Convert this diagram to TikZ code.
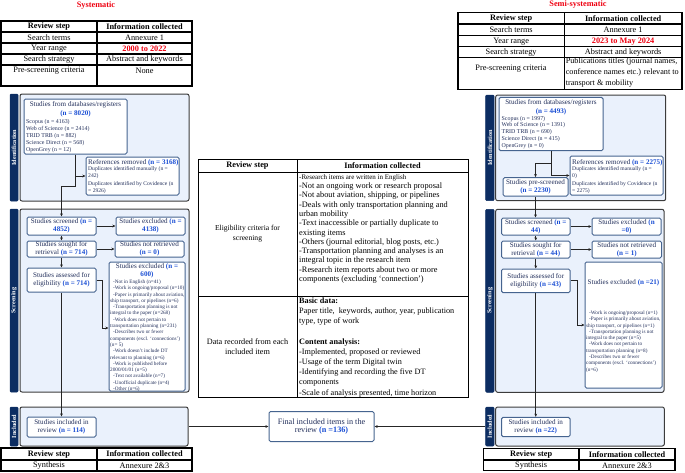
\documentclass[tikz,border=0pt]{standalone}
\usepackage{fontspec}
\setmainfont{Liberation Serif}
\usetikzlibrary{arrows.meta}

\definecolor{navy}{HTML}{0C2D62}
\definecolor{panfill}{HTML}{EAF1FC}
\definecolor{panb}{HTML}{3C3C3C}
\definecolor{boxb}{HTML}{46648F}
\definecolor{boxtxt}{HTML}{23305C}
\definecolor{nblue}{HTML}{1A4ED4}
\definecolor{hred}{HTML}{EE0010}

\newcommand\nb[1]{\textcolor{nblue}{\bfseries #1}}
\newcommand\tabf{\fontsize{8.3}{10}\selectfont}
\newcommand\midf{\fontsize{8.3}{9.3}\selectfont}
\newcommand\mida{\fontsize{7}{9.3}\selectfont}
\newcommand\mide{\fontsize{7.6}{9.3}\selectfont}
\newcommand\midg{\fontsize{8.2}{10.2}\selectfont}
\newcommand\boxf{\fontsize{7.1}{8.2}\selectfont}
\newcommand\finf{\fontsize{8.2}{10.6}\selectfont}
\newcommand\dbf{\fontsize{5.9}{6.9}\selectfont}
\newcommand\reff{\fontsize{5.6}{7.2}\selectfont}
\newcommand\exf{\fontsize{5.2}{6.3}\selectfont}
\newcommand\sidef{\fontsize{6.2}{7}\selectfont}
\newcommand\bx[7]{\node[#6, minimum width={#4-#2}, minimum height={#5-#3}] (#1) at ({(#2+#4)/2},{(#3+#5)/2}) {#7};}

\begin{document}
\begin{tikzpicture}[x=1pt,y=-1pt,
  cell/.style={draw=black, line width=1.2pt, inner sep=0pt, align=center, font=\tabf, text=black},
  mcell/.style={cell, line width=0.9pt},
  tabtxt/.style={inner sep=0pt, font=\tabf, align=center, text=black},
  ttl/.style={inner sep=0pt, font=\tabf\bfseries, text=hred},
  panel/.style={draw=panb, line width=1pt, fill=panfill, rounded corners=2pt, inner sep=0pt},
  side/.style={draw=navy, fill=navy, rounded corners=1pt, inner sep=0pt, line width=0.5pt},
  sidetxt/.style={rotate=90, text=white, font=\sidef\bfseries, inner sep=0pt},
  box/.style={draw=boxb, line width=1pt, fill=white, rounded corners=1.5pt, inner sep=0.5pt, align=center, font=\boxf, text=boxtxt},
  boxt/.style={inner sep=0pt, align=center, font=\boxf, text=boxtxt},
  dbl/.style={inner sep=0pt, align=left, font=\dbf, text=boxtxt, anchor=north west},
  refl/.style={inner sep=0pt, align=left, font=\reff, text=boxtxt, anchor=north west},
  exl/.style={inner sep=0pt, align=left, font=\exf, text=boxtxt, anchor=north west},
  conn/.style={draw=black!85, line width=0.8pt},
  arr/.style={conn, -{Stealth[length=3.2pt,width=2.8pt]}}
]
\useasboundingbox (0,0) rectangle (685,472);

% ---------------- LEFT: systematic ----------------
\node[ttl] (ltitle) at (96,6) {Systematic};
\bx{lt11}{1}{21}{97}{32}{cell}{\bfseries Review step}
\bx{lt12}{97}{21}{192}{32}{cell}{\bfseries Information collected}
\bx{lt21}{1}{32}{97}{43}{cell}{Search terms}
\bx{lt22}{97}{32}{192}{43}{cell}{Annexure 1}
\bx{lt31}{1}{43}{97}{54}{cell}{Year range}
\bx{lt32}{97}{43}{192}{54}{cell}{\textcolor{hred}{\bfseries 2000 to 2022}}
\bx{lt41}{1}{54}{97}{65}{cell}{Search strategy}
\bx{lt42}{97}{54}{192}{65}{cell}{Abstract and keywords}
\bx{lt51}{1}{65}{97}{86}{cell}{}
\bx{lt52}{97}{65}{192}{86}{cell}{}
\node[tabtxt] (lt51t) at (49,71) {Pre-screening criteria};
\node[tabtxt] (lt52t) at (144.5,71) {None};

\bx{lpI}{20}{94}{189}{201}{panel}{}
\bx{lsI}{10}{94}{18}{201}{side}{}
\node[sidetxt] (lsIt) at (lsI) {Identification};
\bx{lpS}{20}{209}{189}{392}{panel}{}
\bx{lsS}{10}{209}{18}{392}{side}{}
\node[sidetxt] (lsSt) at (lsS) {Screening};
\bx{lpN}{20}{407}{188}{446}{panel}{}
\bx{lsN}{10}{407}{18}{446}{side}{}
\node[sidetxt] (lsNt) at (lsN) {Included};

\bx{ldb}{24}{99}{127}{154}{box}{}
\node[boxt] (ldbt) at (75.5,109.5) {Studies from databases/registers\\[0.3pt]\nb{(n = 8020)}};
\node[dbl] (ldbl) at (26,119.3) {Scopus (n = 4163)\\Web of Science (n = 2414)\\TRID TRB (n = 882)\\Science Direct (n = 568)\\OpenGrey (n = 12)};

\bx{lref}{86}{157}{179}{195}{box}{}
\node[boxt, anchor=west] (lreft) at (88,162.3) {References removed \nb{(n = 3168)}};
\node[refl] (lrefl) at (88,166.5) {Duplicates identified manually (n =\\242)\\Duplicates identified by Covidence (n\\= 2926)};

\bx{lscr}{27}{217}{96}{235}{box}{Studies screened \nb{(n =}\\\nb{4852)}}
\bx{lexc1}{116}{217}{185}{235}{box}{Studies excluded \nb{(n =}\\\nb{4138)}}
\bx{lsought}{27}{241}{96}{257}{box}{Studies sought for\\retrieval \nb{(n = 714)}}
\bx{lnotret}{115}{241}{184}{257}{box}{Studies not retrieved\\\nb{(n = 0)}}
\bx{lassess}{27}{268}{96}{292}{box}{Studies assessed for\\eligibility \nb{(n = 714)}}
\bx{lexc2}{109}{262}{185}{391}{box}{}
\node[boxt] (lexc2t) at (147,271) {Studies excluded \nb{(n =}\\\nb{600)}};
\node[exl] (lexc2l) at (110,279.6) {\hspace*{3pt}-Not in English (n=41)\\
\hspace*{3pt}-Work is ongoing/proposal (n=10)\\
\hspace*{3pt}-Paper is primarily about aviation,\\
ship transport, or pipelines (n=6)\\
\hspace*{3pt}-Transportation planning is not\\
integral to the paper (n=268)\\
\hspace*{3pt}-Work does not pertain to\\
transportation planning (n=231)\\
\hspace*{3pt}-Describes two or fewer\\
components (excl. `connections')\\
(n= 5)\\
\hspace*{3pt}-Work doesn't include DT\\
relevant to planning (n=6)\\
\hspace*{3pt}-Work is published before\\
2000/01/01 (n=5)\\
\hspace*{3pt}-Text not available (n=7)\\
\hspace*{3pt}-Unofficial duplicate (n=4)\\
\hspace*{3pt}-Other (n=6)};
\bx{linc}{27}{417}{96}{437}{box}{Studies included in\\review \nb{(n = 114)}}

\bx{lb11}{1}{448}{97}{460}{cell}{\bfseries Review step}
\bx{lb12}{97}{448}{192}{460}{cell}{\bfseries Information collected}
\bx{lb21}{1}{460}{97}{471}{cell}{Synthesis}
\bx{lb22}{97}{460}{192}{471}{cell}{Annexure 2\&3}

% ---------------- MIDDLE ----------------
\bx{mt11}{198}{159}{297}{172}{mcell}{\bfseries Review step}
\bx{mt12}{297}{159}{468}{172}{mcell}{\bfseries Information collected}
\bx{mt21}{198}{172}{297}{296}{mcell}{\mide Eligibility criteria for\\\mide screening}
\bx{mt22}{297}{172}{468}{296}{mcell}{}
\node[inner sep=0pt, align=left, anchor=north west, font=\midf] (mt22t) at (299,174.2) {{\mida -Research items are written in English}\\
-Not an ongoing work or research proposal\\
-Not about aviation, shipping, or pipelines\\
-Deals with only transportation planning and\\
urban mobility\\
-Text inaccessible or partially duplicate to\\
existing items\\
-Others (journal editorial, blog posts, etc.)\\
-Transportation planning and analyses is an\\
integral topic in the research item\\
-Research item reports about two or more\\
components (excluding `connection')};
\bx{mt31}{198}{296}{297}{397}{mcell}{\midg Data recorded from each\\\midg included item}
\bx{mt32}{297}{296}{468}{397}{mcell}{}
\node[inner sep=0pt, align=left, anchor=north west, font=\midg] (mt32t) at (299,297.5) {\textbf{Basic data:}\\
Paper title,\ \ keywords, author, year, publication\\
type, type of work\\
\mbox{}\\
\textbf{Content analysis:}\\
-Implemented, proposed or reviewed\\
-Usage of the term Digital twin\\
-Identifying and recording the five DT\\
components\\
-Scale of analysis presented, time horizon};

\bx{fin}{269}{411.5}{374}{441.5}{box}{\finf Final included items in the\\\finf review \nb{(n =136)}}

% ---------------- RIGHT: semi-systematic ----------------
\node[ttl] (rtitle) at (578,4.5) {Semi-systematic};
\bx{rt11}{458}{12.7}{564.3}{24}{cell}{\bfseries Review step}
\bx{rt12}{564.3}{12.7}{682}{24}{cell}{\bfseries Information collected}
\bx{rt21}{458}{24}{564.3}{35.7}{cell}{Search terms}
\bx{rt22}{564.3}{24}{682}{35.7}{cell}{Annexure 1}
\bx{rt31}{458}{35.7}{564.3}{46.7}{cell}{Year range}
\bx{rt32}{564.3}{35.7}{682}{46.7}{cell}{\textcolor{hred}{\bfseries 2023 to May 2024}}
\bx{rt41}{458}{46.7}{564.3}{57.7}{cell}{Search strategy}
\bx{rt42}{564.3}{46.7}{682}{57.7}{cell}{Abstract and keywords}
\bx{rt51}{458}{57.7}{564.3}{89.3}{cell}{}
\bx{rt52}{564.3}{57.7}{682}{89.3}{cell}{}
\node[tabtxt] (rt51t) at (511,68.5) {Pre-screening criteria};
\node[inner sep=0pt, align=left, anchor=north west, font=\fontsize{8.2}{11}\selectfont] (rt52t) at (565.6,57.8) {Publications titles (journal names,\\conference names etc.) relevant to\\transport \& mobility};

\bx{rpI}{495.7}{95}{665.7}{200.7}{panel}{}
\bx{rsI}{485.7}{95}{494}{200.7}{side}{}
\node[sidetxt] (rsIt) at (rsI) {Identification};
\bx{rpS}{495.7}{209.3}{664}{392.3}{panel}{}
\bx{rsS}{485.7}{209.3}{494}{392.3}{side}{}
\node[sidetxt] (rsSt) at (rsS) {Screening};
\bx{rpN}{495.7}{407}{664.3}{446}{panel}{}
\bx{rsN}{485.7}{407}{494}{446}{side}{}
\node[sidetxt] (rsNt) at (rsN) {Included};

\bx{rdb}{499}{97.3}{603}{150.7}{box}{}
\node[boxt] (rdbt) at (551,107.2) {Studies from databases/registers\\[0.3pt]\nb{(n = 4493)}};
\node[dbl] (rdbl) at (501.5,115.8) {Scopus (n = 1997)\\Web of Science (n = 1391)\\TRID TRB (n = 690)\\Science Direct (n = 415)\\OpenGrey (n = 0)};

\bx{rref}{570}{156}{663}{195}{box}{}
\node[boxt, anchor=west] (rreft) at (572,162.3) {References removed \nb{(n = 2275)}};
\node[refl] (rrefl) at (572,166.5) {Duplicates identified manually (n =\\0)\\Duplicates identified by Covidence (n\\= 2275)};
\bx{rpre}{503}{177.7}{568}{196}{box}{Studies pre-screened\\\nb{(n = 2230)}}

\bx{rscr}{501.5}{218}{570}{235}{box}{Studies screened \nb{(n =}\\\nb{44)}}
\bx{rexc1}{592}{218}{661}{235}{box}{Studies excluded \nb{(n}\\\nb{=0)}}
\bx{rsought}{501.5}{241}{570}{258}{box}{Studies sought for\\retrieval \nb{(n = 44)}}
\bx{rnotret}{592}{241}{661.5}{258}{box}{Studies not retrieved\\\nb{(n = 1)}}
\bx{rassess}{501.5}{269}{570}{292.7}{box}{Studies assessed for\\eligibility \nb{(n =43)}}
\bx{rexc2}{585}{262}{662}{388}{box}{}
\node[boxt] (rexc2t) at (623.5,282.3) {Studies excluded \nb{(n =21)}};
\node[exl] (rexc2l) at (586,310.6) {\hspace*{3pt}-Work is ongoing/proposal (n=1)\\
\hspace*{3pt}-Paper is primarily about aviation,\\
ship transport, or pipelines (n=1)\\
\hspace*{3pt}-Transportation planning is not\\
integral to the paper (n=5)\\
\hspace*{3pt}-Work does not pertain to\\
transportation planning (n=8)\\
\hspace*{3pt}-Describes two or fewer\\
components (excl. `connections')\\
(n=6)};
\bx{rinc}{501.5}{417.3}{570}{436.7}{box}{Studies included in\\review \nb{(n =22)}}

\bx{rb11}{483.3}{448.3}{579}{460}{cell}{\bfseries Review step}
\bx{rb12}{579}{448.3}{675}{460}{cell}{\bfseries Information collected}
\bx{rb21}{483.3}{460}{579}{470.7}{cell}{Synthesis}
\bx{rb22}{579}{460}{675}{470.7}{cell}{Annexure 2\&3}

% ---------------- connectors ----------------
\coordinate (lb1) at (75.5,186.7);
\draw[conn] (ldb.south) -- (lb1);
\draw[arr] (lb1) -| (lscr.north);
\draw[arr] (ldb.south |- lref.west) -- (lref.west);
\draw[arr] (lscr) -- (lexc1);
\draw[arr] (lscr) -- (lsought);
\draw[arr] (lsought) -- (lnotret);
\draw[arr] (lsought) -- (lassess);
\coordinate (lk1) at (102,328);
\draw[arr] (lassess.east) -| (lk1) -- (lk1 -| lexc2.west);
\draw[arr] (lassess) -- (linc);
\draw[arr] (lpN.east) -- (fin.west);

\coordinate (rb1) at (551,163.3);
\draw[conn] (rdb.south) -- (rdb.south |- rref.west);
\draw[arr] (rdb.south |- rref.west) -- (rref.west);
\draw[arr] (rb1) -| (rpre.north);
\draw[arr] (rpre.south) -- (rpre.south |- rscr.north);
\draw[arr] (rscr) -- (rexc1);
\draw[arr] (rscr) -- (rsought);
\draw[arr] (rsought) -- (rnotret);
\draw[arr] (rsought) -- (rassess);
\coordinate (rk1) at (577.7,325);
\draw[arr] (rassess.east) -| (rk1) -- (rk1 -| rexc2.west);
\draw[arr] (rassess.south) -- (rassess.south |- rinc.north);
\draw[arr] (rsN.west) -- (fin.east);
\end{tikzpicture}
\end{document}
